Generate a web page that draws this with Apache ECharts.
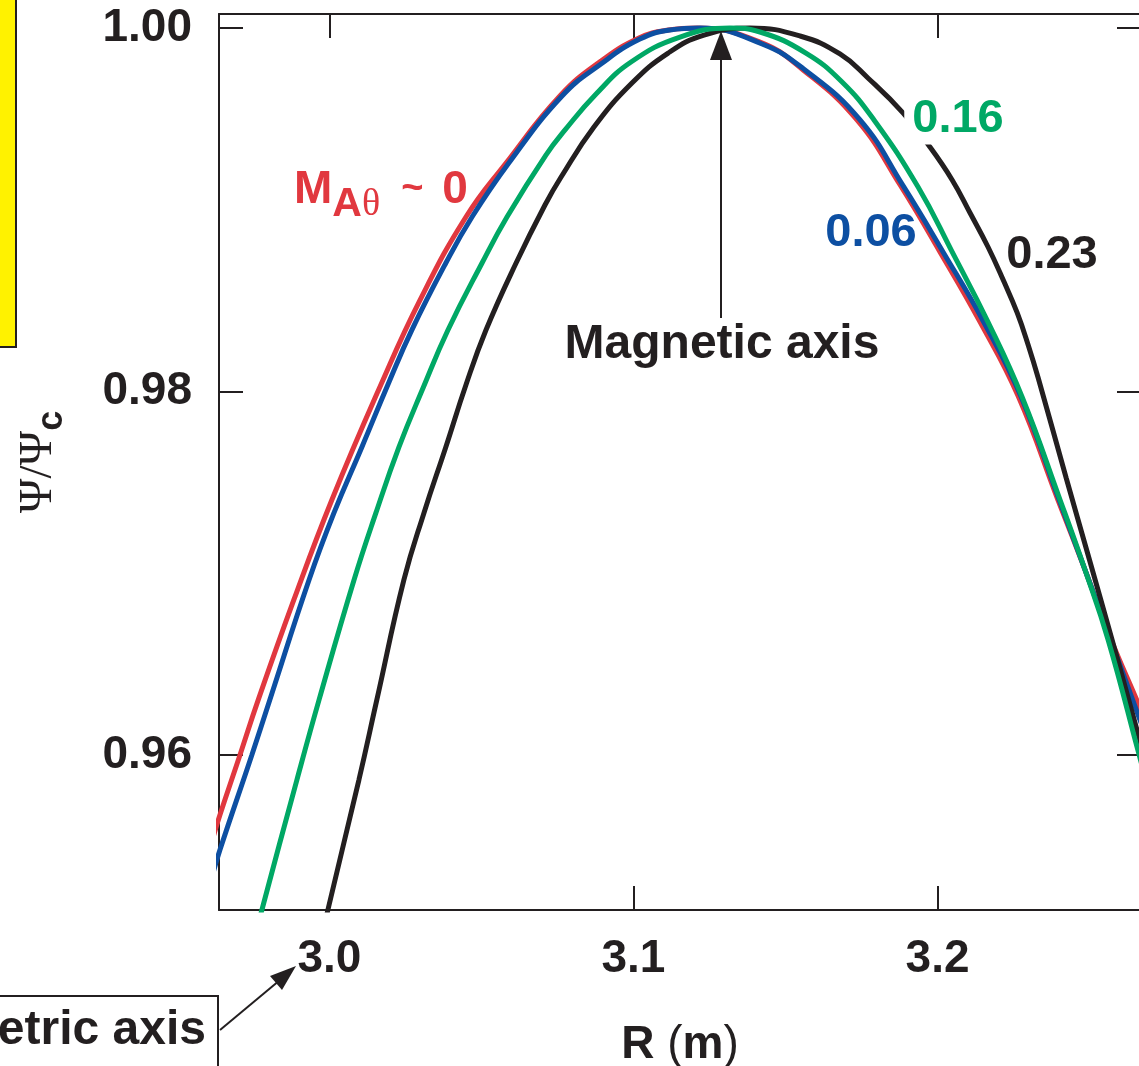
<!DOCTYPE html>
<html>
<head>
<meta charset="utf-8">
<title>Psi / Psi_c versus R</title>
<script src="https://cdn.jsdelivr.net/npm/echarts@6/dist/echarts.min.js"></script>
<style>
  html, body { margin: 0; padding: 0; background: #fff; overflow: hidden; }
  #chart { width: 1142px; height: 1066px; }
</style>
</head>
<body>
<div id="chart"></div>
<script>
// [R (m), psi/psi_c], one curve per M_A-theta
const curveM0 = [
  [2.9614, 0.95527], [2.9640, 0.95670], [2.9706, 0.96000], [2.9766, 0.96303],
  [2.9883, 0.96853], [3.0008, 0.97403], [3.0169, 0.98036], [3.0298, 0.98503],
  [3.0449, 0.98960], [3.0581, 0.99257], [3.0758, 0.99626], [3.0893, 0.99818],
  [3.1018, 0.99945], [3.1114, 0.99989], [3.1209, 1.00000], [3.1416, 0.99923],
  [3.1558, 0.99769], [3.1735, 0.99494], [3.1877, 0.99136], [3.2008, 0.98768],
  [3.2140, 0.98382], [3.2265, 0.97975], [3.2396, 0.97403], [3.2485, 0.97018],
  [3.2567, 0.96649], [3.2663, 0.96270], [3.2686, 0.96171]
];
const curveM006 = [
  [2.9614, 0.95329], [2.9640, 0.95477], [2.9745, 0.96000], [2.9804, 0.96303],
  [2.9933, 0.96963], [3.0015, 0.97332], [3.0107, 0.97695], [3.0192, 0.98036],
  [3.0271, 0.98338], [3.0383, 0.98707], [3.0469, 0.98960], [3.0590, 0.99257],
  [3.0765, 0.99626], [3.0893, 0.99802], [3.1021, 0.99939], [3.1120, 0.99989],
  [3.1219, 1.00000], [3.1423, 0.99912], [3.1564, 0.99769], [3.1745, 0.99494],
  [3.1887, 0.99131], [3.2018, 0.98768], [3.2150, 0.98388], [3.2275, 0.97970],
  [3.2400, 0.97403], [3.2485, 0.97018], [3.2571, 0.96627], [3.2663, 0.96204],
  [3.2686, 0.96105]
];
const curveM016 = [
  [2.9762, 0.95037], [2.9778, 0.95147], [2.9893, 0.95862], [2.9966, 0.96303],
  [3.0081, 0.96963], [3.0153, 0.97332], [3.0229, 0.97695], [3.0308, 0.98019],
  [3.0390, 0.98338], [3.0502, 0.98707], [3.0584, 0.98960], [3.0712, 0.99301],
  [3.0775, 0.99439], [3.0877, 0.99637], [3.0992, 0.99813], [3.1153, 0.99950],
  [3.1317, 1.00000], [3.1416, 0.99978], [3.1567, 0.99862], [3.1686, 0.99703],
  [3.1791, 0.99494], [3.1936, 0.99125], [3.2048, 0.98768], [3.2166, 0.98382],
  [3.2278, 0.97970], [3.2403, 0.97403], [3.2485, 0.97018], [3.2561, 0.96633],
  [3.2663, 0.96000], [3.2686, 0.95857]
];
const curveM023 = [
  [2.9982, 0.95037], [2.9995, 0.95147], [3.0097, 0.95862], [3.0156, 0.96303],
  [3.0245, 0.96963], [3.0311, 0.97332], [3.0383, 0.97695], [3.0449, 0.98036],
  [3.0515, 0.98338], [3.0614, 0.98707], [3.0709, 0.99026], [3.0762, 0.99180],
  [3.0870, 0.99455], [3.0995, 0.99697], [3.1114, 0.99862], [3.1232, 0.99961],
  [3.1383, 1.00000], [3.1548, 0.99956], [3.1679, 0.99857], [3.1771, 0.99725],
  [3.1887, 0.99532], [3.1975, 0.99345], [3.2048, 0.99164], [3.2107, 0.98982],
  [3.2166, 0.98795], [3.2216, 0.98613], [3.2262, 0.98432], [3.2298, 0.98256],
  [3.2331, 0.98074], [3.2423, 0.97524], [3.2495, 0.97100], [3.2574, 0.96633],
  [3.2663, 0.96094], [3.2686, 0.95956]
];
const rTicks = [3.0, 3.1, 3.2];
const rTicksBottom = [3.1, 3.2];
const psiTicks = [0.96, 0.98, 1.00];
const rRange = [2.9637, 3.2669];
const psiRange = [0.95147, 1.00077];

const INK = '#231F20';
const RED = '#E1383F';
const BLUE = '#0D4FA2';
const GREEN = '#00A865';
const SANS = '"Liberation Sans", Arial, Helvetica, sans-serif';
const SERIF = '"Liberation Serif", "Times New Roman", serif';

const chart = echarts.init(document.getElementById('chart'), null, { renderer: 'canvas' });

function frameAxis(pos, ticks, range, extra) {
  return Object.assign({
    type: 'value',
    position: pos,
    min: range[0],
    max: range[1],
    axisLine: { show: true, lineStyle: { color: INK, width: 2 } },
    axisTick: { show: true, inside: true, length: 24, customValues: ticks, lineStyle: { color: INK, width: 2 } },
    axisLabel: { show: false, customValues: ticks },
    splitLine: { show: false }
  }, extra || {});
}

const labelFont = { fontFamily: SANS, fontWeight: 'bold', fontSize: 46, color: INK };

function curve(name, data, color) {
  return {
    name: name,
    type: 'line',
    data: data,
    smooth: 0.45,
    showSymbol: false,
    clip: true,
    lineStyle: { color: color, width: 5 },
    emphasis: { disabled: true }
  };
}

function centred(text, x, y, font, color, extra) {
  return {
    type: 'text', z: 60, x: x, y: y,
    style: Object.assign({ text: text, font: font, fill: color,
      align: 'center', textAlign: 'center', verticalAlign: 'middle', textVerticalAlign: 'middle' }, extra || {})
  };
}

const option = {
  animation: false,
  backgroundColor: '#fff',
  grid: { left: 219, top: 14, right: 1, bottom: 156, outerBoundsMode: 'none', containLabel: false },
  xAxis: [
    frameAxis('bottom', rTicksBottom, rRange, {
      axisLabel: Object.assign({ show: true, customValues: rTicks, margin: 26,
        formatter: v => v.toFixed(1) }, labelFont),
      name: '{b|R }{l|(}{b|m}{l|)}',
      nameLocation: 'middle',
      nameGap: 112,
      nameTextStyle: {
        rich: {
          b: { fontFamily: SANS, fontWeight: 'bold', fontSize: 46, color: INK },
          l: { fontFamily: SANS, fontWeight: 'normal', fontSize: 46, color: INK }
        }
      }
    }),
    frameAxis('top', rTicks, rRange)
  ],
  yAxis: [
    frameAxis('left', psiTicks, psiRange, {
      axisLabel: Object.assign({ show: true, customValues: psiTicks, margin: 27,
        formatter: v => v.toFixed(2) }, labelFont),
      name: '{p|Ψ/Ψ}{c|c}',
      nameLocation: 'middle',
      nameRotate: 90,
      nameGap: 149,
      nameTextStyle: {
        rich: {
          p: { fontFamily: SERIF, fontSize: 47, color: INK },
          c: { fontFamily: SANS, fontWeight: 'bold', fontSize: 36, color: INK, padding: [26, 0, 0, 0] }
        }
      }
    }),
    frameAxis('right', psiTicks, psiRange)
  ],
  series: [
    curve('M ~ 0', curveM0, RED),
    curve('0.06', curveM006, BLUE),
    curve('0.23', curveM023, INK),
    curve('0.16', curveM016, GREEN)
  ],
  graphic: [
    // yellow panel edge on the left
    { type: 'rect', z: 50, shape: { x: -4, y: -4, width: 20, height: 351 },
      style: { fill: '#FFF200', stroke: INK, lineWidth: 2 } },
    // geometric axis callout (cut off at the left)
    { type: 'rect', z: 50, shape: { x: -4, y: 996, width: 222, height: 100 },
      style: { fill: '#fff', stroke: INK, lineWidth: 2 } },
    { type: 'text', z: 51, x: 206, y: 1031,
      style: { text: 'etric axis', font: 'bold 48px ' + SANS, fill: INK,
        align: 'right', textAlign: 'right', verticalAlign: 'middle', textVerticalAlign: 'middle' } },
    { type: 'line', z: 51, shape: { x1: 220, y1: 1030, x2: 280, y2: 980 },
      style: { stroke: INK, lineWidth: 2 } },
    { type: 'polygon', z: 51, shape: { points: [[296, 966], [282, 990], [270, 976]] },
      style: { fill: INK } },
    // magnetic axis arrow
    { type: 'line', z: 51, shape: { x1: 721, y1: 318, x2: 721, y2: 55 },
      style: { stroke: INK, lineWidth: 2 } },
    { type: 'polygon', z: 51, shape: { points: [[721, 31], [710, 60], [732, 60]] },
      style: { fill: INK } },
    centred('Magnetic axis', 722, 345, 'bold 48px ' + SANS, INK),
    // curve labels
    { type: 'text', z: 60, x: 294, y: 190,
      style: {
        text: '{m|M}{s|A}{t|θ}{g|~}{m|0}',
        align: 'left', textAlign: 'left', verticalAlign: 'middle', textVerticalAlign: 'middle',
        rich: {
          m: { font: 'bold 46px ' + SANS, fill: RED, color: RED },
          s: { font: 'bold 41px ' + SANS, fill: RED, color: RED, padding: [30, 0, 0, 0] },
          t: { font: '38px ' + SERIF, fill: RED, color: RED, padding: [30, 0, 0, 0] },
          g: { font: 'bold 38px ' + SANS, fill: RED, color: RED, padding: [0, 19, 0, 21] }
        }
      } },
    centred('0.16', 957, 119, 'bold 47px ' + SANS, GREEN, { backgroundColor: '#fff', padding: [2, 6, 2, 8] }),
    centred('0.06', 871, 233, 'bold 47px ' + SANS, BLUE),
    centred('0.23', 1052, 255, 'bold 47px ' + SANS, INK)
  ]
};

chart.setOption(option);
window.addEventListener('resize', () => chart.resize());
</script>
</body>
</html>
